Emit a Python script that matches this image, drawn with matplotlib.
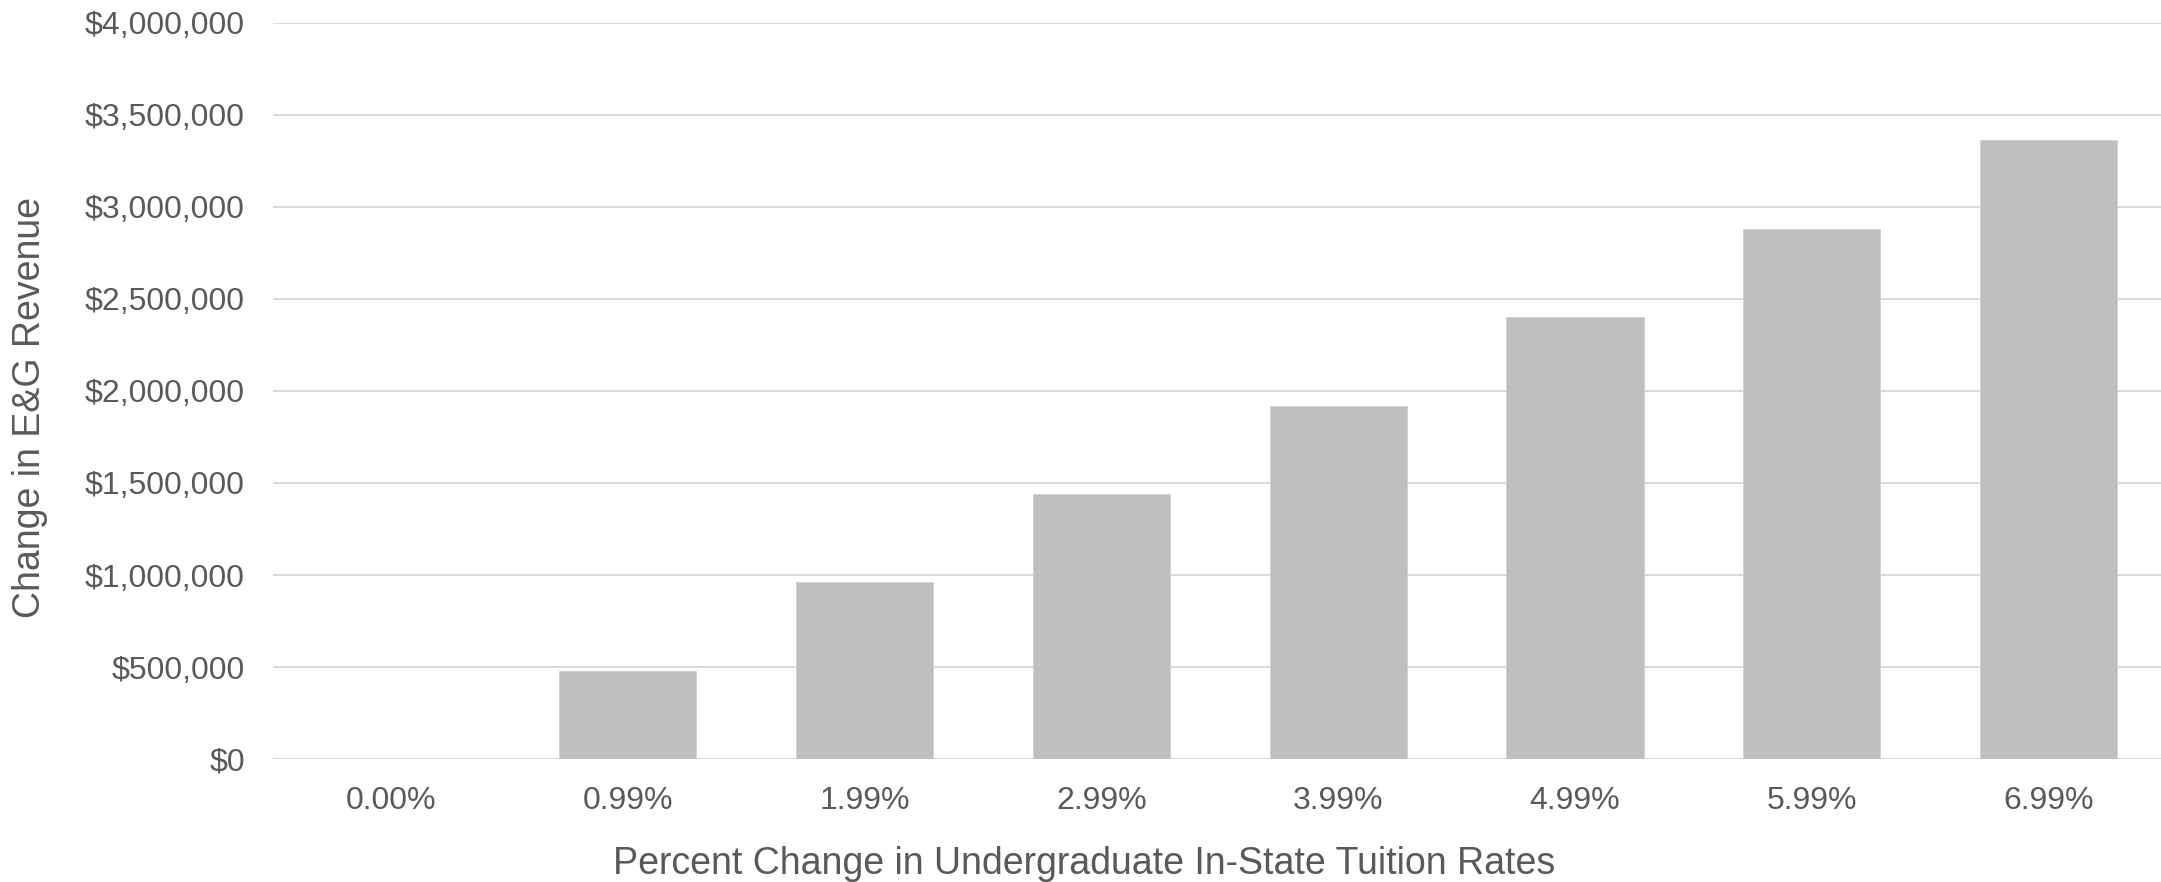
#! /usr/bin/env python3
from matplotlib import pyplot as plt
from matplotlib.ticker import FuncFormatter

# ==== DATA ====
rates = ['0.00%', '0.99%', '1.99%', '2.99%', '3.99%', '4.99%', '5.99%', '6.99%']
revenue = [0, 480000, 960000, 1440000, 1920000, 2400000, 2880000, 3360000]
y_ticks = [0, 500000, 1000000, 1500000, 2000000, 2500000, 3000000, 3500000, 4000000]

# ==== PLOT ====
plt.rcParams['font.family'] = ['Liberation Sans', 'DejaVu Sans']
TEXT = '#595959'

W, H = 2161, 882
left, bottom, top = 272.6, 759.3, 22.5
width = 1894.4  # plot area runs a little past the right edge of the figure
ax_h = bottom - top

fig = plt.figure(figsize=(W / 100, H / 100), dpi=100)
ax = fig.add_axes([left / W, 1 - bottom / H, width / W, ax_h / H])

x = range(len(rates))
ax.bar(x, revenue, width=0.58, color='#BFBFBF', edgecolor='#CFCFCF', linewidth=0.6, zorder=3)

ax.set_xlim(-0.5, len(rates) - 0.5)
ax.set_ylim(0, 4000000)
ax.set_yticks(y_ticks)
ax.yaxis.set_major_formatter(FuncFormatter(lambda v, p: f'${v:,.0f}'))
ax.set_xticks(list(x))
ax.set_xticklabels(rates)

ax.grid(axis='y', color='#D9D9D9', linewidth=1.4, zorder=0)
ax.set_axisbelow(True)
for s in ax.spines.values():
    s.set_visible(False)

ax.tick_params(axis='both', length=0, labelsize=23, colors=TEXT)
ax.tick_params(axis='y', pad=20)
ax.tick_params(axis='x', pad=19)

ax.set_ylabel('Change in E&G Revenue', fontsize=27, color=TEXT)
ax.set_xlabel('Percent Change in Undergraduate In-State Tuition Rates', fontsize=27, color=TEXT)
ax.yaxis.set_label_coords(-(left - 30) / width, (bottom - 408) / ax_h)
ax.xaxis.set_label_coords((1084 - left) / width, -(864 - bottom) / ax_h)
ax.xaxis.label.set_va('center')
ax.yaxis.label.set_va('center')

fig.savefig('out.png', dpi=100, facecolor='white')
